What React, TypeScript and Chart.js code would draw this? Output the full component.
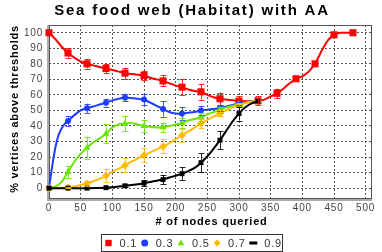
import React, { useEffect, useRef } from "react";
import { Chart, registerables } from "chart.js";

Chart.register(...registerables);

const TITLE = "Sea food web (Habitat) with AA";
const X_TITLE = "# of nodes queried";
const Y_TITLE = "% vertices above thresholds";
const X_TICKS = [0, 50, 100, 150, 200, 250, 300, 350, 400, 450, 500];
const Y_TICKS = [0, 10, 20, 30, 40, 50, 60, 70, 80, 90, 100];
const LABELS = ["0.1", "0.3", "0.5", "0.7", "0.9"];
const COLORS = ["#ff0000", "#1f3dff", "#66e600", "#ffbb00", "#000000"];
const STYLES = ["rect", "circle", "triangle", "rectRot", "rect"];
const SIZES = [5, 3, 4, 4, 3.5];

// dense curves
const RED_X = [0,10,20,30,40,50,60,70,80,90,100,110,120,130,140,150,160,170,180,190,200,210,220,230,240,250,260,270,280,290,300,310,320,330,340,350,360,370,380,390,400,410,420,430,440,450,460,470,480];
const RED_Y = [100,96,91,87,84,81.5,80,79,78,77,76,75,74,73.5,73,72.5,71,70,69,67.5,66,65,63.5,62.5,62,60,58.5,57.5,57,56.5,56,56,56,56.2,57,59,61,64,67.5,70.4,72,75,80,88,95,98.7,100,100,100];
const BLUE_X = [0,5,10,15,20,25,30,40,50,60,70,80,90,100,110,120,130,140,150,160,170,180,190,200,210,220,230,240,250,260,270,280,290,300,310,320,330];
const BLUE_Y = [0,14,26,34,38.5,41.5,43.2,47,50,51.4,52.5,53.8,55,56.5,57.5,58.3,58,57.5,57,55,53,51,49,48,48,48.5,49,50,50.5,51,51.5,52.5,53.5,54.5,55.2,55.8,56];
const GREEN_X = [0,10,20,30,40,50,60,70,80,90,100,110,120,130,140,150,160,170,180,190,200,210,220,230,240,250,260,270,280,290,300,310,320,330];
const GREEN_Y = [0,1,4,10.4,17,22,26,29.5,32,35,39,41,41.5,42,41,40,39.5,39,39.2,40,41,42,43.5,44.5,45.6,47.5,49,50.5,52,53,54,55,55.7,56];
const YELLOW_X = [0,10,20,30,40,50,60,70,80,90,100,110,120,130,140,150,160,170,180,190,200,210,220,230,240,250,260,270,280,290,300,310,320,330];
const YELLOW_Y = [0,0,0.2,0.4,1,2,3,4.5,6,8,10.5,12.5,14.7,17,19,21.2,23,25,26.8,29,31.5,34,36.5,39,41.7,44,46,48.2,50,52,53.5,54.8,55.5,56];
const BLACK_X = [0,30,60,90,100,110,120,130,140,150,160,170,180,190,200,210,220,230,240,250,260,270,280,290,300,310,320,330];
const BLACK_Y = [0,0,0,0.3,0.6,1,1.5,2,2.5,3.2,4,4.8,5.5,6.8,8,9.3,11,13,16.4,20.5,25.5,30.9,37,43,48,52,54.5,56];

// error bars at marker points (every 30 nodes, starting at 0)
const MARK_STEP = 30;
const RED_ERR = [0,3,3,3,3.5,3,3.5,5,5,4,3,3,3,0,0,0,0];
const BLUE_ERR = [0,3,3,2.5,2.5,3.5,5,4,3,2,1,0];
const GREEN_ERR = [0,4,7,6,5,4,3,3,3,2,1,0];
const YELLOW_ERR = [0,0.5,1.5,4,4.5,4.5,4.5,4,3,2,1,0];
const BLACK_ERR = [0,0,0,0.5,1,2,3,4,6,6,4.5,0];

const SERIES_X = [RED_X, BLUE_X, GREEN_X, YELLOW_X, BLACK_X];
const SERIES_Y = [RED_Y, BLUE_Y, GREEN_Y, YELLOW_Y, BLACK_Y];
const SERIES_ERR = [RED_ERR, BLUE_ERR, GREEN_ERR, YELLOW_ERR, BLACK_ERR];

const FONT = "'Liberation Sans', Arial, sans-serif";

function drawMarker(ctx: CanvasRenderingContext2D, style: string, x: number, y: number, r: number, color: string, legend = false) {
  ctx.save();
  ctx.fillStyle = color;
  ctx.beginPath();
  if (style === "circle") {
    ctx.arc(x, y, r, 0, Math.PI * 2);
  } else if (style === "rect") {
    if (legend && color === "#000000") {
      ctx.rect(x - 4, y - 1.5, 8, 3);
    } else {
      const s = r * Math.SQRT1_2;
      ctx.rect(x - s, y - s, 2 * s, 2 * s);
    }
  } else if (style === "triangle") {
    ctx.moveTo(x, y - r);
    ctx.lineTo(x + r * 0.95, y + r * 0.65);
    ctx.lineTo(x - r * 0.95, y + r * 0.65);
    ctx.closePath();
  } else if (style === "rectRot") {
    ctx.moveTo(x, y - r);
    ctx.lineTo(x + r, y);
    ctx.lineTo(x, y + r);
    ctx.lineTo(x - r, y);
    ctx.closePath();
  }
  ctx.fill();
  ctx.restore();
}

const framePlugin = {
  id: "frame",
  beforeDraw(chart: any) {
    chart.ctx.letterSpacing = "0.8px";
  },
  beforeDatasetsDraw(chart: any) {
    const { ctx, chartArea: a } = chart;
    ctx.save();
    ctx.letterSpacing = "0px";
    ctx.strokeStyle = "#aaaaaa";
    ctx.lineWidth = 2;
    ctx.beginPath();
    ctx.moveTo(a.left - 1, a.top);
    ctx.lineTo(a.left - 1, a.bottom + 1);
    ctx.lineTo(a.right, a.bottom + 1);
    ctx.stroke();
    ctx.strokeStyle = "#555555";
    ctx.lineWidth = 1;
    ctx.strokeRect(Math.round(a.left) + 0.5, Math.round(a.top) + 0.5, Math.round(a.right - a.left) - 1, Math.round(a.bottom - a.top) - 1);
    ctx.restore();
  },
  afterDatasetsDraw(chart: any) {
    const { ctx } = chart;
    const xs = chart.scales.x;
    const ys = chart.scales.y;
    ctx.save();
    ctx.letterSpacing = "0px";
    SERIES_ERR.forEach((errs, si) => {
      const px = SERIES_X[si];
      const py = SERIES_Y[si];
      ctx.strokeStyle = COLORS[si];
      ctx.globalAlpha = 0.85;
      ctx.lineWidth = 1;
      errs.forEach((e, k) => {
        if (!e) return;
        const xv = k * MARK_STEP;
        const idx = px.indexOf(xv);
        if (idx < 0) return;
        const yv = py[idx];
        const X = Math.round(xs.getPixelForValue(xv)) + 0.5;
        const y1 = ys.getPixelForValue(yv + e);
        const y2 = ys.getPixelForValue(yv - e);
        ctx.beginPath();
        ctx.moveTo(X, y1);
        ctx.lineTo(X, y2);
        ctx.moveTo(X - 3, Math.round(y1) + 0.5);
        ctx.lineTo(X + 3, Math.round(y1) + 0.5);
        ctx.moveTo(X - 3, Math.round(y2) + 0.5);
        ctx.lineTo(X + 3, Math.round(y2) + 0.5);
        ctx.stroke();
      });
    });
    ctx.restore();
  },
  afterDraw(chart: any) {
    const { ctx, chartArea: a } = chart;
    ctx.save();
    ctx.fillStyle = "#000";
    ctx.textBaseline = "middle";
    ctx.textAlign = "center";
    // title
    ctx.font = `bold 15px ${FONT}`;
    ctx.letterSpacing = "1.8px";
    ctx.fillText(TITLE, chart.width / 2 + 1, 11);
    // x title
    ctx.font = `bold 11px ${FONT}`;
    ctx.letterSpacing = "0.8px";
    ctx.fillText(X_TITLE, (a.left + a.right) / 2 + 1, 222);
    // y title
    ctx.save();
    ctx.translate(15, (a.top + a.bottom) / 2 - 3);
    ctx.rotate(-Math.PI / 2);
    ctx.letterSpacing = "0.7px";
    ctx.fillText(Y_TITLE, 0, 0);
    ctx.restore();
    // legend
    const bx = 101, by = 234, bw = 181, bh = 17;
    ctx.strokeStyle = "#333";
    ctx.lineWidth = 1;
    ctx.strokeRect(bx + 0.5, by + 0.5, bw, bh);
    ctx.font = `11px ${FONT}`;
    ctx.letterSpacing = "0.8px";
    ctx.textAlign = "left";
    ctx.fillStyle = "#333";
    const itemW = 36.2;
    LABELS.forEach((lab, i) => {
      const mx = bx + 7.5 + i * itemW;
      const my = by + 9;
      drawMarker(ctx, STYLES[i], mx, my, i === 0 ? 4.5 : 3.5, COLORS[i], true);
      ctx.fillStyle = "#333";
      ctx.fillText(lab, mx + 11, my + 0.5);
    });
    ctx.restore();
    ctx.letterSpacing = "0px";
  },
};

export default function App() {
  const ref = useRef<HTMLCanvasElement>(null);
  useEffect(() => {
    document.body.style.margin = "0";
    const datasets = LABELS.map((lab, i) => ({
      label: lab,
      data: SERIES_X[i].map((x, j) => ({ x, y: SERIES_Y[i][j] })),
      borderColor: COLORS[i],
      backgroundColor: COLORS[i],
      borderWidth: 2,
      pointStyle: STYLES[i],
      pointRadius: (c: any) => (c.raw && c.raw.x % MARK_STEP === 0 ? SIZES[i] : 0),
      pointBorderWidth: 0,
      pointHoverRadius: 0,
      tension: 0.25,
      showLine: true,
      clip: false as any,
    }));
    datasets.reverse();
    const chart = new Chart(ref.current as HTMLCanvasElement, {
      type: "scatter",
      data: { datasets },
      plugins: [framePlugin],
      options: {
        animation: false,
        responsive: false,
        devicePixelRatio: 1,
        layout: { padding: { left: 0, right: 10, top: 25, bottom: 0 } },
        plugins: { legend: { display: false }, title: { display: false }, tooltip: { enabled: false } },
        scales: {
          x: {
            type: "linear",
            min: 0,
            max: 510,
            afterFit: (s: any) => { s.height = 53; },
            afterBuildTicks: (s: any) => { s.ticks = X_TICKS.map((v) => ({ value: v })); },
            grid: { color: "#555", lineWidth: 1, drawTicks: false },
            border: { display: false, dash: [2, 2] },
            ticks: { padding: 3, color: "#444", font: { family: FONT, size: 10 }, maxRotation: 0, autoSkip: false },
          },
          y: {
            type: "linear",
            min: -7,
            max: 105,
            afterFit: (s: any) => { s.width = 49; },
            afterBuildTicks: (s: any) => { s.ticks = Y_TICKS.map((v) => ({ value: v })); },
            grid: { color: "#555", lineWidth: 1, drawTicks: false },
            border: { display: false, dash: [2, 2] },
            ticks: { padding: 6, color: "#444", font: { family: FONT, size: 10 }, autoSkip: false },
          },
        },
      } as any,
    });
    return () => chart.destroy();
  }, []);
  return (
    <div style={{ width: 382, height: 252 }}>
      <canvas ref={ref} width={382} height={252} style={{ display: "block" }} />
    </div>
  );
}
